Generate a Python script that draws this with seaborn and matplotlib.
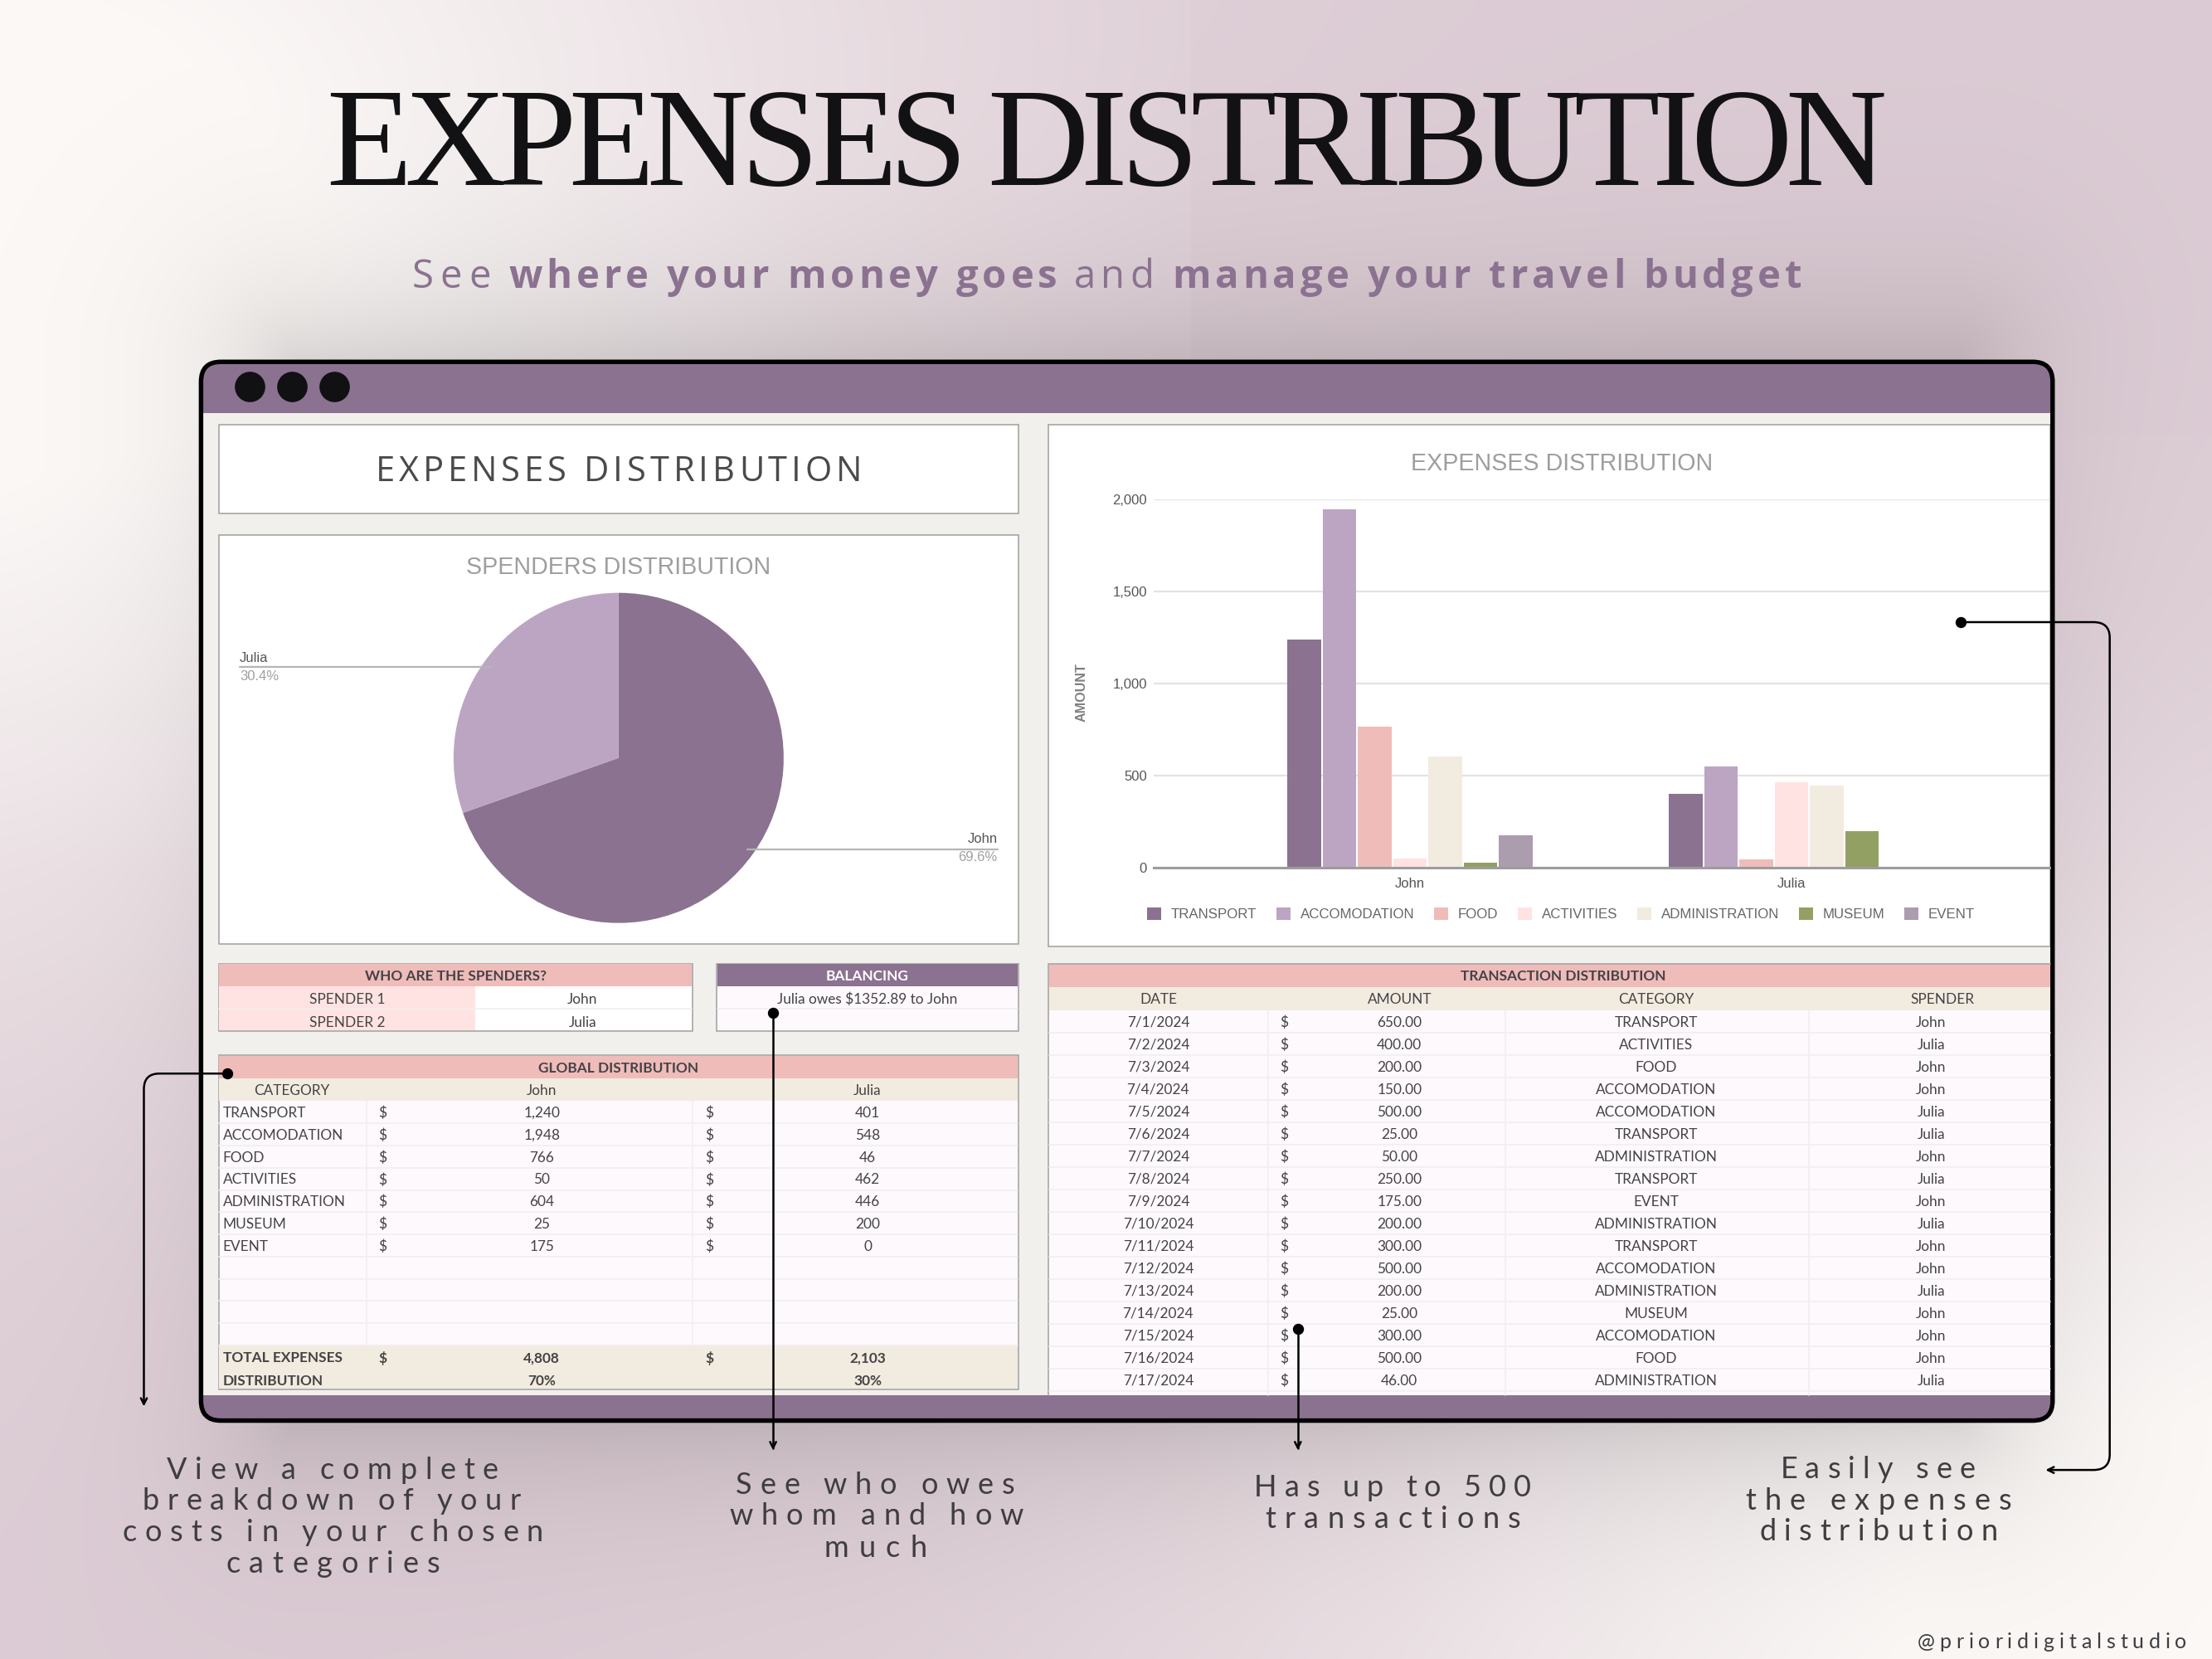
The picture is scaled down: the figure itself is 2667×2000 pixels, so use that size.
import numpy as np
import pandas as pd
import seaborn as sns
from matplotlib import pyplot as plt
from matplotlib.patches import FancyArrowPatch, FancyBboxPatch, Rectangle
from matplotlib.path import Path
from matplotlib.text import Text

# the data
spenders = ['John', 'Julia']
spender_share = [69.6, 30.4]

categories = ['TRANSPORT', 'ACCOMODATION', 'FOOD', 'ACTIVITIES', 'ADMINISTRATION', 'MUSEUM', 'EVENT']
john_amounts = [1240, 1948, 766, 50, 604, 25, 175]
julia_amounts = [401, 548, 46, 462, 446, 200, 0]
total_expenses = [4808, 2103]
distribution = ['70%', '30%']

tx_dates = ['7/1/2024', '7/2/2024', '7/3/2024', '7/4/2024', '7/5/2024', '7/6/2024', '7/7/2024', '7/8/2024', '7/9/2024',
            '7/10/2024', '7/11/2024', '7/12/2024', '7/13/2024', '7/14/2024', '7/15/2024', '7/16/2024', '7/17/2024']
tx_amounts = [650, 400, 200, 150, 500, 25, 50, 250, 175, 200, 300, 500, 200, 25, 300, 500, 46]
tx_categories = ['TRANSPORT', 'ACTIVITIES', 'FOOD', 'ACCOMODATION', 'ACCOMODATION', 'TRANSPORT', 'ADMINISTRATION',
                 'TRANSPORT', 'EVENT', 'ADMINISTRATION', 'TRANSPORT', 'ACCOMODATION', 'ADMINISTRATION', 'MUSEUM',
                 'ACCOMODATION', 'FOOD', 'ADMINISTRATION']
tx_spenders = ['John', 'Julia', 'John', 'John', 'Julia', 'Julia', 'John', 'Julia', 'John', 'Julia', 'John', 'John',
               'Julia', 'John', 'John', 'John', 'Julia']

PURPLE = '#8b7290'
LILAC = '#bca5c3'
PINK = '#efbcba'
ROSE = '#ffe3e2'
CREAM = '#f2ebdf'
ROW = '#fdf9fd'
GREY_BG = '#f1f0ec'
EDGE = '#a6a6a3'
INK = '#454345'
bar_colors = [PURPLE, LILAC, PINK, ROSE, CREAM, '#92a063', '#ab9cae']

sns.set_theme(style='white')
plt.rcParams['font.family'] = ['Lato', 'DejaVu Sans']

W, H = 1568, 1176  # layout is measured in these units
fig = plt.figure(figsize=(13.335, 10), dpi=200)


def sub_axes(x0, y0, x1, y1, **kw):
    return fig.add_axes([x0 / W, 1 - y1 / H, (x1 - x0) / W, (y1 - y0) / H], **kw)


class SpacedText(Text):
    # one string, letters spread evenly between x0 and x1
    def __init__(self, x0, x1, y, s, **kw):
        super().__init__(x0, y, s, ha='left', va='baseline', **kw)
        self.x0, self.x1 = x0, x1

    def draw(self, renderer):
        s = self.get_text()
        fp = self.get_fontproperties()
        size = lambda t: renderer.get_text_width_height_descent(t, fp, False)[0]
        adv = [size('|' + c + '|') - size('||') for c in s]
        tr = self.get_transform()
        px0 = tr.transform((self.x0, 0))[0]
        px1 = tr.transform((self.x1, 0))[0]
        gap = (px1 - px0 - sum(adv)) / (len(s) - 1)
        x = px0
        for c, a in zip(s, adv):
            self.set_text(c)
            self.set_x(tr.inverted().transform((x, 0))[0])
            super().draw(renderer)
            x += a + gap
        self.set_text(s)
        self.set_x(self.x0)


# background
bg = sub_axes(0, 0, W, H)
bg.set_xlim(0, W)
bg.set_ylim(H, 0)
bg.axis('off')

xx, yy = np.meshgrid(np.linspace(0, W, 784), np.linspace(0, H, 588))
glow1 = np.exp(-((xx / 620) ** 2 + ((yy - 170) / 500) ** 2))
glow2 = np.exp(-(((xx - W) / 640) ** 2 + ((yy - H) / 500) ** 2))
glow = np.clip(1.12 * np.maximum(glow1, glow2), 0, 1)
glow[(xx > 845) & (yy < 308)] *= 0.55
mauve = np.array([220, 203, 212]) / 255
paper = np.array([252, 249, 247]) / 255
img = mauve + (paper - mauve) * glow[..., None]
dx = np.maximum(0, np.abs(xx - 798) - 590)
dy = np.maximum(0, np.abs(yy - 631) - 376)
shade = 0.16 * np.exp(-np.hypot(dx, dy) / 62)
img = img * (1 - shade[..., None]) + np.array([0.35, 0.35, 0.35]) * shade[..., None] * 0.35
bg.imshow(np.clip(img, 0, 1), extent=[0, W, H, 0], aspect='auto', interpolation='bilinear')
bg.set_xlim(0, W)
bg.set_ylim(H, 0)


def cell(x0, y0, x1, y1, color, edge='none', lw=0.6):
    bg.add_patch(Rectangle((x0, y0), x1 - x0, y1 - y0, facecolor=color, edgecolor=edge, linewidth=lw))


def txt(x, y, s, size=6.2, color=INK, ha='center', weight='normal', family=None):
    kw = {'family': family} if family else {}
    bg.text(x, y + 0.8, s, fontsize=size, color=color, ha=ha, va='center', fontweight=weight, **kw)


def spaced(x0, x1, y, s, **kw):
    bg.add_artist(SpacedText(x0, x1, y, s, **kw))


# headline
spaced(231, 1337.5, 131, 'EXPENSES DISTRIBUTION', family='Liberation Serif', fontsize=61, color='#121214')
for x0, x1, s, w in [(292, 348, 'See', 'normal'), (360.5, 749.5, 'where your money goes', 'bold'),
                     (761, 818, 'and', 'normal'), (831, 1277, 'manage your travel budget', 'bold')]:
    spaced(x0, x1, 204, s, fontsize=17, color=PURPLE, fontweight=w, family='Open Sans')

# window
r = 14
win = (142.5, 256.5, 1455, 1007)
bg.add_patch(FancyBboxPatch((win[0] + r, win[1] + r), win[2] - win[0] - 2 * r, win[3] - win[1] - 2 * r,
                            boxstyle=f'round,pad={r},rounding_size={r}', facecolor=PURPLE, edgecolor='none'))
cell(144, 293, 1453.5, 989, GREY_BG)
for x in [177, 207, 237]:
    bg.plot(x, 274, 'o', ms=13.2, color='#111114', mew=0)

# title panel and pie panel
cell(155, 301, 722, 364, 'white', EDGE)
spaced(266, 611, 341, 'EXPENSES DISTRIBUTION', fontsize=15, color='#4a4a4c', family='Open Sans')
cell(155, 379, 722, 669, 'white', EDGE)
txt(438.5, 401.5, 'SPENDERS DISTRIBUTION', size=10.3, color='#9e9e9e', family='Liberation Sans')

# who are the spenders
cell(155, 683, 491, 731, 'white', EDGE)
cell(155.5, 683.5, 490.5, 699, PINK)
cell(155.5, 699, 337, 730.5, ROSE)
bg.plot([155.5, 490.5], [715, 715], color='#f1efef', lw=0.6)
txt(323, 691, 'WHO ARE THE SPENDERS?', weight='bold')
for i, name in enumerate(spenders):
    txt(246, 707.5 + i * 16.5, f'SPENDER {i + 1}')
    txt(413, 707.5 + i * 16.5, name)

# balancing
cell(508, 683, 722, 731, ROW, EDGE)
cell(508.5, 683.5, 721.5, 699, PURPLE)
bg.plot([508.5, 721.5], [715, 715], color='#f1efef', lw=0.6)
txt(615, 691, 'BALANCING', color='white', weight='bold')
txt(615, 707.5, 'Julia owes $1352.89 to John')

# global distribution table
cell(155, 748, 722, 985, ROW, EDGE)
cell(155.5, 748.5, 721.5, 764.5, PINK)
cell(155.5, 764.5, 721.5, 780.5, CREAM)
cell(155.5, 953, 721.5, 984.5, CREAM)
txt(438.5, 756.5, 'GLOBAL DISTRIBUTION', weight='bold')
txt(207, 772.5, 'CATEGORY')
txt(384, 772.5, spenders[0])
txt(615, 772.5, spenders[1])
row_h = 15.75
for i in range(11):
    bg.plot([155.5, 721.5], [780.5 + (i + 1) * row_h] * 2, color='#f1eff1', lw=0.6)
for x in [260, 491]:
    bg.plot([x, x], [780.5, 953], color='#f1eff1', lw=0.6)
for i, (cat, a, b) in enumerate(zip(categories, john_amounts, julia_amounts)):
    y = 788.3 + i * row_h
    txt(158, y, cat, ha='left')
    txt(271, y, '$')
    txt(384, y, f'{a:,}')
    txt(503, y, '$')
    txt(615, y, f'{b:,}')
txt(158, 962, 'TOTAL EXPENSES', ha='left', weight='bold')
txt(158, 978, 'DISTRIBUTION', ha='left', weight='bold')
txt(271, 962, '$', weight='bold')
txt(503, 962, '$', weight='bold')
for x, total, share in zip([384, 615], total_expenses, distribution):
    txt(x, 962, f'{total:,}', weight='bold')
    txt(x, 978, share, weight='bold')

# transaction table
cell(743, 683, 1453.5, 989, ROW)
bg.plot([743, 743, 1453.5], [989, 683, 683], color=EDGE, lw=0.6)
cell(743.5, 683.5, 1453.5, 699.5, PINK)
cell(743.5, 699.5, 1453.5, 716, CREAM)
txt(1108, 691.5, 'TRANSACTION DISTRIBUTION', weight='bold')
for x, head in zip([821, 992, 1174, 1377], ['DATE', 'AMOUNT', 'CATEGORY', 'SPENDER']):
    txt(x, 707.5, head)
tx_h = 15.875
for i in range(17):
    bg.plot([743.5, 1453.5], [716 + (i + 1) * tx_h] * 2, color='#f1eff1', lw=0.6)
for x in [899, 1067, 1282]:
    bg.plot([x, x], [716, 989], color='#f1eff1', lw=0.6)
for i, (d, a, c, s) in enumerate(zip(tx_dates, tx_amounts, tx_categories, tx_spenders)):
    y = 724 + i * tx_h
    txt(821, y, d)
    txt(910, y, '$')
    txt(992, y, f'{a:.2f}')
    txt(1174, y, c)
    txt(1369, y, s)

# expenses chart panel
cell(743, 301, 1453.5, 671, 'white', EDGE)
txt(1107, 328, 'EXPENSES DISTRIBUTION', size=10.3, color='#9e9e9e', family='Liberation Sans')

# window outline goes over the panels
bg.add_patch(FancyBboxPatch((win[0] + r, win[1] + r), win[2] - win[0] - 2 * r, win[3] - win[1] - 2 * r,
                            boxstyle=f'round,pad={r},rounding_size={r}', facecolor='none', edgecolor='black', linewidth=1.95))

# pie labels
txt(170, 466, spenders[1], size=6, color='#555555', ha='left', family='Liberation Sans')
txt(170, 479, f'{spender_share[1]}%', size=6, color='#a0a0a0', ha='left', family='Liberation Sans')
txt(707, 594, spenders[0], size=6, color='#555555', ha='right', family='Liberation Sans')
txt(707, 607, f'{spender_share[0]}%', size=6, color='#a0a0a0', ha='right', family='Liberation Sans')

# pie
ax_pie = sub_axes(321.5, 420, 555.5, 654.5, facecolor='none')
ax_pie.pie(spender_share, colors=[PURPLE, LILAC], startangle=90, counterclock=False, radius=1,
           wedgeprops={'linewidth': 0})
ax_pie.set_xlim(-1, 1)
ax_pie.set_ylim(-1, 1)

# grouped bars
df = pd.DataFrame({
    'spender': [spenders[0]] * len(categories) + [spenders[1]] * len(categories),
    'category': categories * 2,
    'amount': john_amounts + julia_amounts,
})
ax_bar = sub_axes(818, 354, 1453, 615, facecolor='none')
sns.barplot(data=df, x='spender', y='amount', hue='category', hue_order=categories, palette=bar_colors,
            width=0.6466, gap=0.05, saturation=1, linewidth=0, ax=ax_bar)
ax_bar.set_xlim(-0.671, 1.677)
ax_bar.set_ylim(0, 2000)
ax_bar.set_yticks([0, 500, 1000, 1500, 2000], ['0', '500', '1,000', '1,500', '2,000'])
ax_bar.set_axisbelow(True)
ax_bar.yaxis.grid(True, color='#e3e3e3', lw=0.8)
ax_bar.xaxis.grid(False)
ax_bar.tick_params(length=0, labelsize=6, labelcolor='#555555', pad=3)
ax_bar.tick_params(axis='x', pad=4.2)
for lab in ax_bar.get_xticklabels() + ax_bar.get_yticklabels():
    lab.set_family('Liberation Sans')
for side in ['top', 'left', 'right']:
    ax_bar.spines[side].set_visible(False)
ax_bar.spines['bottom'].set_color('#9c9c9c')
ax_bar.spines['bottom'].set_linewidth(1.1)
ax_bar.set_xlabel('')
ax_bar.set_ylabel('AMOUNT', fontsize=5.8, color='#808080', fontweight='bold', family='Liberation Sans')
ax_bar.yaxis.set_label_coords((771 - 818) / 635, (615 - 490.5) / 261)
handles, labels = ax_bar.get_legend_handles_labels()
ax_bar.legend(handles, labels, loc='center left', bbox_to_anchor=((813 - 818) / 635, (615 - 648) / 261), ncol=7,
              frameon=False, borderpad=0, borderaxespad=0, handlelength=1, handleheight=1, handletextpad=0.7,
              columnspacing=1.4, prop={'family': 'Liberation Sans', 'size': 6.1}, labelcolor='#666666')

# callouts on top of everything
top = sub_axes(0, 0, W, H, facecolor='none')
top.set_xlim(0, W)
top.set_ylim(H, 0)
top.axis('off')

# pie leader lines run over the slices
top.plot([170, 349], [473, 473], color='#b5b5b5', lw=0.8)
top.plot([530, 707], [602, 602], color='#b5b5b5', lw=0.8)


def connector(verts, codes):
    top.add_patch(FancyArrowPatch(path=Path(verts, codes), arrowstyle='->,head_length=2.6,head_width=1.3',
                                  lw=0.9, color='black', mutation_scale=1))


M, L, C = Path.MOVETO, Path.LINETO, Path.CURVE3
connector([(161, 761), (113, 761), (102, 761), (102, 772), (102, 997)], [M, L, C, C, L])
connector([(548, 718), (548, 1028)], [M, L])
connector([(920, 942), (920, 1028)], [M, L])
connector([(1390, 441), (1484, 441), (1495.5, 441), (1495.5, 452), (1495.5, 1031), (1495.5, 1042), (1484, 1042), (1450, 1042)],
          [M, L, C, C, L, C, C, L])
for x, y in [(161, 761), (548, 718), (920, 942), (1390, 441)]:
    top.plot(x, y, 'o', ms=3.8, color='black')

captions = [
    (118, 353, 1048.3, 'View a complete'), (101, 369, 1070, 'breakdown of your'),
    (87, 385, 1092.3, 'costs in your chosen'), (160, 312, 1114.6, 'categories'),
    (521.5, 719, 1059, 'See who owes'), (517, 725.5, 1081, 'whom and how'), (584, 657, 1103.6, 'much'),
    (889, 1085, 1060.7, 'Has up to 500'), (896.5, 1078, 1083, 'transactions'),
    (1262, 1400, 1047.7, 'Easily see'), (1237, 1426, 1070, 'the expenses'), (1247, 1416, 1092, 'distribution'),
]
for x0, x1, y, s in captions:
    spaced(x0, x1, y, s, fontsize=13, color='#3f3d3f')
spaced(1359, 1550, 1168.5, '@prioridigitalstudio', fontsize=9, color='#3f3d3f')

fig.savefig('out.png', dpi=200)
